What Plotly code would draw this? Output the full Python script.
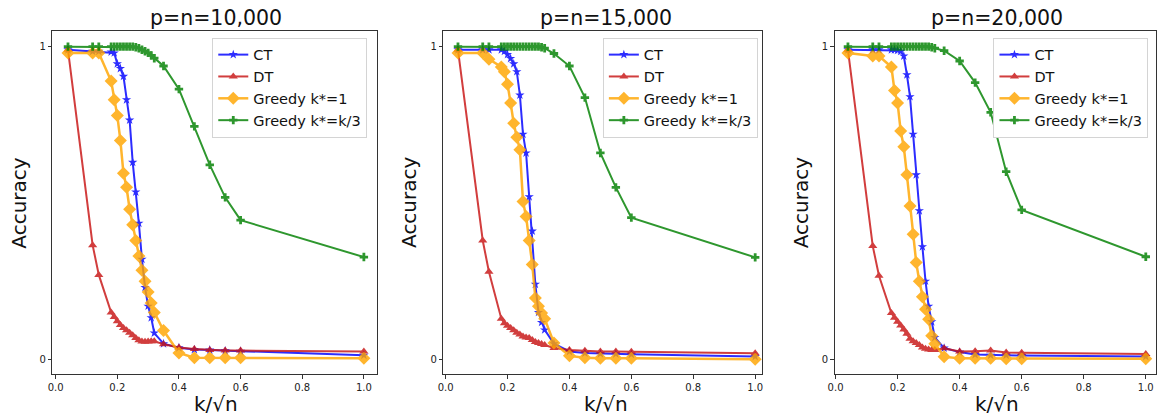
import plotly.graph_objects as go

# ---------------- data ----------------
k_ratio = [0.04, 0.12, 0.14, 0.18, 0.19, 0.20, 0.21, 0.22, 0.23, 0.24, 0.25, 0.26, 0.27,
           0.28, 0.29, 0.30, 0.31, 0.32, 0.35, 0.40, 0.45, 0.50, 0.55, 0.60, 1.00]

panel_titles = ["p=n=10,000", "p=n=15,000", "p=n=20,000"]
series_names = ["CT", "DT", "Greedy k*=1", "Greedy k*=k/3"]

ct_10k = [0.99, 0.985, 0.985, 0.983, 0.98, 0.945, 0.93, 0.905, 0.83, 0.765, 0.63, 0.535, 0.435,
          0.32, 0.23, 0.17, 0.133, 0.084, 0.05, 0.037, 0.031, 0.03, 0.027, 0.026, 0.013]
dt_10k = [0.99, 0.365, 0.27, 0.15, 0.135, 0.122, 0.11, 0.10, 0.093, 0.085, 0.077, 0.068, 0.061,
          0.057, 0.056, 0.057, 0.058, 0.058, 0.048, 0.038, 0.033, 0.03, 0.028, 0.028, 0.025]
g1_10k = [0.98, 0.98, 0.98, 0.89, 0.83, 0.78, 0.70, 0.595, 0.55, 0.48, 0.43, 0.38, 0.33,
          0.285, 0.25, 0.215, 0.18, 0.15, 0.092, 0.02, 0.005, 0.005, 0.005, 0.005, 0.003]
g3_10k = [1.0, 1.0, 1.0, 1.0, 1.0, 1.0, 1.0, 1.0, 1.0, 1.0, 1.0, 0.998, 0.995,
          0.99, 0.985, 0.98, 0.972, 0.963, 0.938, 0.864, 0.745, 0.622, 0.518, 0.445, 0.327]

ct_15k = [0.99, 0.99, 0.99, 0.99, 0.985, 0.975, 0.962, 0.945, 0.92, 0.845, 0.72, 0.66, 0.52,
          0.41, 0.24, 0.15, 0.118, 0.094, 0.05, 0.025, 0.02, 0.018, 0.017, 0.016, 0.009]
dt_15k = [0.99, 0.38, 0.28, 0.13, 0.115, 0.107, 0.10, 0.093, 0.085, 0.079, 0.073, 0.07, 0.068,
          0.062, 0.055, 0.052, 0.049, 0.046, 0.036, 0.03, 0.027, 0.025, 0.025, 0.024, 0.019]
g1_15k = [0.98, 0.98, 0.96, 0.935, 0.92, 0.88, 0.82, 0.755, 0.71, 0.67, 0.505, 0.457, 0.38,
          0.303, 0.196, 0.17, 0.148, 0.13, 0.052, 0.011, 0.005, 0.003, 0.003, 0.003, 0.0]
g3_15k = [1.0, 1.0, 1.0, 1.0, 1.0, 1.0, 1.0, 1.0, 1.0, 1.0, 1.0, 1.0, 1.0,
          1.0, 1.0, 1.0, 0.998, 0.995, 0.978, 0.938, 0.837, 0.66, 0.55, 0.453, 0.326]

ct_20k = [0.99, 0.99, 0.99, 0.99, 0.99, 0.988, 0.985, 0.97, 0.91, 0.84, 0.72, 0.59, 0.475,
          0.36, 0.25, 0.17, 0.12, 0.07, 0.036, 0.023, 0.015, 0.013, 0.013, 0.012, 0.009]
dt_20k = [0.99, 0.362, 0.267, 0.148, 0.133, 0.12, 0.108, 0.095, 0.082, 0.066, 0.058, 0.052, 0.046,
          0.038, 0.034, 0.031, 0.03, 0.03, 0.035, 0.025, 0.026, 0.028, 0.022, 0.021, 0.017]
g1_20k = [0.98, 0.97, 0.97, 0.935, 0.86, 0.82, 0.73, 0.68, 0.59, 0.49, 0.40, 0.31, 0.25,
          0.20, 0.16, 0.128, 0.075, 0.05, 0.008, 0.003, 0.003, 0.003, 0.002, 0.002, 0.002]
g3_20k = [1.0, 1.0, 1.0, 1.0, 1.0, 1.0, 1.0, 1.0, 1.0, 1.0, 1.0, 1.0, 1.0,
          1.0, 1.0, 1.0, 0.998, 0.995, 0.987, 0.954, 0.885, 0.79, 0.60, 0.478, 0.328]

x_tick_vals = [0.0, 0.2, 0.4, 0.6, 0.8, 1.0]
x_tick_text = ["0.0", "0.2", "0.4", "0.6", "0.8", "1.0"]
y_tick_vals = [0, 1]
y_tick_text = ["0", "1"]

panels = [
    [ct_10k, dt_10k, g1_10k, g3_10k],
    [ct_15k, dt_15k, g1_15k, g3_15k],
    [ct_20k, dt_20k, g1_20k, g3_20k],
]

# ---------------- style ----------------
W, H = 1159, 415
M_T, M_B = 31, 40.5
PLOT_H = H - M_T - M_B
FONT = "DejaVu Sans"

def px_x(X):
    return X / W

def px_y(Y):
    return 1 - (Y - M_T) / PLOT_H

colors = ["#0000ff", "#c81414", "#ffa500", "#008000"]
symbols = ["star", "triangle-up", "diamond", "cross"]
msizes = [7, 8, 10, 7]
lwidths = [2, 2, 2.5, 2]

# per-panel pixel geometry (left, right), x ranges, legend left, label centers
ax_px = [(45.7, 372.7), (439.3, 760.7), (833.3, 1157.0)]
x_ranges = [[-0.0106, 1.043], [-0.0075, 1.0235], [-0.0032, 1.033]]
legend_left = [206.7, 600.0, 993.3]
title_cx = [210, 603.5, 997]
ylab_cx = [12, 405, 799]
xlab_cx = [210, 603, 997]

fig = go.Figure()
for p, data in enumerate(panels):
    ax_suffix = "" if p == 0 else str(p + 1)
    leg = "legend" if p == 0 else f"legend{p + 1}"
    for s, yvals in enumerate(data):
        fig.add_trace(go.Scatter(
            x=k_ratio, y=yvals, name=series_names[s], mode="lines+markers",
            xaxis="x" + ax_suffix, yaxis="y" + ax_suffix, legend=leg,
            opacity=0.82,
            line=dict(color=colors[s], width=lwidths[s]),
            marker=dict(color=colors[s], symbol=symbols[s], size=msizes[s],
                        line=dict(width=0)),
        ))

axis_common = dict(
    showline=True, mirror=True, linecolor="#333333", linewidth=1,
    showgrid=False, zeroline=False, ticks="outside", ticklen=3.5,
    tickcolor="#333333", tickfont=dict(family=FONT, size=10, color="#222222"),
)

layout = dict(
    width=W, height=H, margin=dict(l=0, r=0, t=M_T, b=M_B),
    paper_bgcolor="white", plot_bgcolor="white",
    font=dict(family=FONT, color="#111111"),
    annotations=[],
)
for p in range(3):
    ax_suffix = "" if p == 0 else str(p + 1)
    l, r = ax_px[p]
    layout["xaxis" + ax_suffix] = dict(
        axis_common, domain=[px_x(l), px_x(r)], range=x_ranges[p],
        tickvals=x_tick_vals, ticktext=x_tick_text,
        anchor="y" + ax_suffix,
    )
    layout["yaxis" + ax_suffix] = dict(
        axis_common, domain=[0, 1], range=[-0.047, 1.05],
        tickvals=y_tick_vals, ticktext=y_tick_text,
        anchor="x" + ax_suffix,
    )
    leg = "legend" if p == 0 else f"legend{p + 1}"
    layout[leg] = dict(
        x=px_x(legend_left[p]), y=px_y(37.7), xanchor="left", yanchor="top",
        bgcolor="white", bordercolor="#d4d4d4", borderwidth=1,
        font=dict(family=FONT, size=14.5, color="#111111"),
    )
    layout["annotations"] += [
        dict(text=panel_titles[p], x=px_x(title_cx[p]), y=px_y(17.5), xref="paper", yref="paper",
             xanchor="center", yanchor="middle", showarrow=False,
             font=dict(family=FONT, size=20.5, color="#111111")),
        dict(text="Accuracy", x=px_x(ylab_cx[p]), y=px_y(203), xref="paper", yref="paper",
             xanchor="center", yanchor="middle", showarrow=False, textangle=-90,
             font=dict(family=FONT, size=20, color="#111111")),
        dict(text="k/\u221an", x=px_x(xlab_cx[p]), y=px_y(405), xref="paper", yref="paper",
             xanchor="center", yanchor="middle", showarrow=False,
             font=dict(family=FONT, size=20, color="#111111")),
    ]

fig.update_layout(**layout)
fig.write_html("out.html", config={"displayModeBar": False},
               post_script="document.body.style.margin='0';document.body.style.overflow='hidden';")
